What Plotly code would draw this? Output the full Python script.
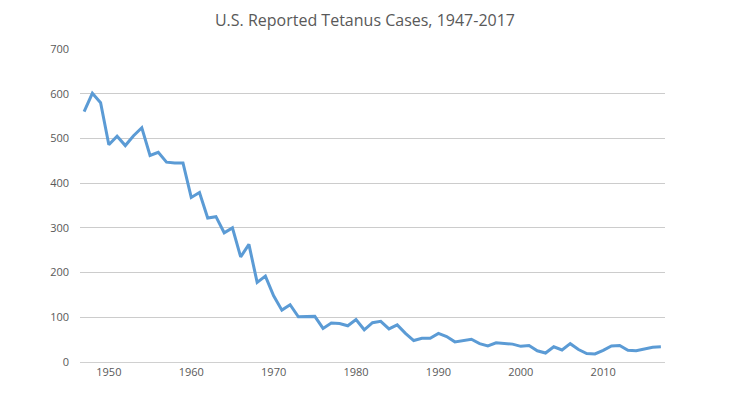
import plotly.graph_objects as go

years = list(range(1947, 2018))
cases = [560, 601, 580, 486, 505, 484, 506, 524, 462, 469, 447, 445, 445,
         368, 379, 322, 325, 289, 300, 235, 263, 178, 192,
         148, 116, 128, 101, 101, 102, 75, 87, 86, 81,
         95, 72, 88, 91, 74, 83, 64, 48, 53, 53,
         64, 57, 45, 48, 51, 41, 36, 43, 41, 40,
         35, 37, 25, 20, 34, 27, 41, 28, 19, 18,
         26, 36, 37, 26, 25, 29, 33, 34]
tick_years = [1950, 1960, 1970, 1980, 1990, 2000, 2010]
y_ticks = [0, 100, 200, 300, 400, 500, 600, 700]

fig = go.Figure()
fig.add_trace(go.Scatter(x=years, y=cases, mode="lines",
                         line=dict(color="#5B9BD5", width=3)))
fig.update_layout(
    width=730, height=393,
    margin=dict(l=72, r=73, t=41, b=39),
    paper_bgcolor="white", plot_bgcolor="white",
    showlegend=False,
    title=dict(text="U.S. Reported Tetanus Cases, 1947-2017",
               x=0.489, xanchor="center", y=0.968, yanchor="middle",
               font=dict(family="Open Sans", size=16, color="#595959")),
    font=dict(family="Open Sans", size=11, color="#595959"),
)
fig.update_xaxes(range=[1946.5, 2017.5], tickvals=tick_years,
                 showgrid=False, zeroline=False, showline=True,
                 linecolor="#d0d0d0", linewidth=1, ticks="",
                 tickfont=dict(size=11, color="#595959"))
fig.update_yaxes(range=[0, 700], tickvals=y_ticks, showgrid=True,
                 gridcolor="#cccccc", gridwidth=1, zeroline=False,
                 showline=False, ticks="", ticklabelstandoff=10,
                 tickfont=dict(size=11, color="#595959"))
fig.write_html("out.html")
